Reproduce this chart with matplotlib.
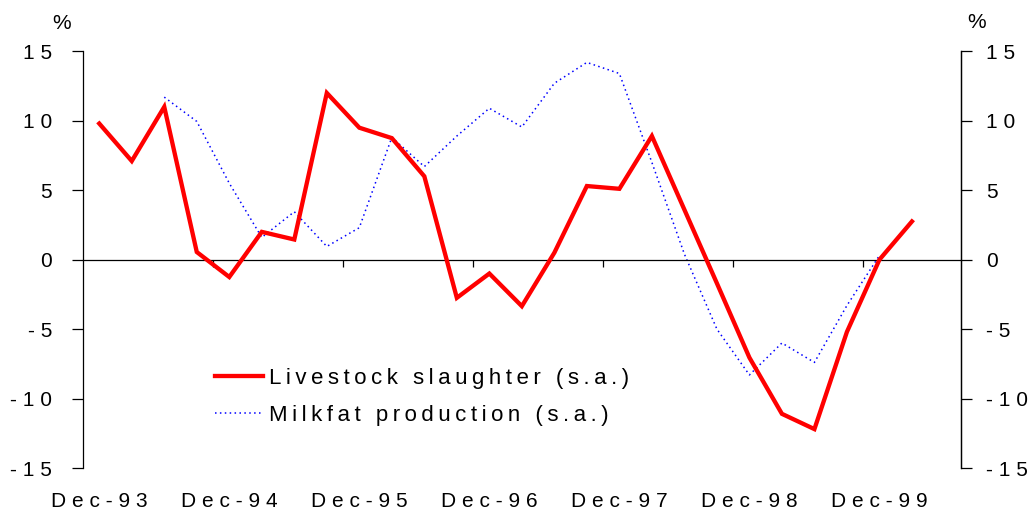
import numpy as np
import matplotlib
matplotlib.use("Agg")
import matplotlib.pyplot as plt

plt.rcParams['font.family'] = ['Liberation Sans', 'DejaVu Sans']

# Quarterly categories, Dec-93 .. Jun-00
quarters = ['Dec-93', 'Mar-94', 'Jun-94', 'Sep-94', 'Dec-94', 'Mar-95', 'Jun-95',
            'Sep-95', 'Dec-95', 'Mar-96', 'Jun-96', 'Sep-96', 'Dec-96', 'Mar-97',
            'Jun-97', 'Sep-97', 'Dec-97', 'Mar-98', 'Jun-98', 'Sep-98', 'Dec-98',
            'Mar-99', 'Jun-99', 'Sep-99', 'Dec-99', 'Mar-00', 'Jun-00']

# Annual growth, % (seasonally adjusted)
livestock = [9.8, 7.1, 11.0, 0.55, -1.25, 2.0, 1.45, 12.0, 9.5, 8.75, 6.0, -2.75,
             -1.0, -3.35, 0.5, 5.3, 5.1, 8.9, 3.6, -1.7, -7.05, -11.1, -12.2,
             -5.2, 0.0, 2.75]
milkfat = [None, None, 11.7, 9.95, 5.5, 1.6, 3.45, 0.95, 2.3, 8.8, 6.7, 8.9, 10.9,
           9.55, 12.7, 14.2, 13.4, 7.0, 0.4, -5.0, -8.3, -6.0, -7.4, -3.3, 0.3]

x_labels = ['Dec-93', 'Dec-94', 'Dec-95', 'Dec-96', 'Dec-97', 'Dec-98', 'Dec-99']
y_ticks = [-15, -10, -5, 0, 5, 10, 15]
series_names = ['Livestock slaughter (s.a.)', 'Milkfat production (s.a.)']


def tracked(s, gap):
    """Letter-spaced version of a label."""
    return gap.join(s)


TICK_GAP = '\u2009\u200a'
LEG_GAP = '\u2009'

W, H = 1031, 511
PX = 72 / 100  # points per pixel at 100 dpi
fig = plt.figure(figsize=(W / 100, H / 100), dpi=100)
left, right, top, bottom = 83, 960.7, 51.3, 468
ax = fig.add_axes([left / W, 1 - bottom / H, (right - left) / W, (bottom - top) / H])

x = np.arange(len(quarters))
ls_vals = np.array(livestock, dtype=float)
mf_vals = np.array([np.nan if v is None else v for v in milkfat], dtype=float)

ax.plot(x[:len(ls_vals)], ls_vals, color='#ff0000', lw=3.1,
        solid_joinstyle='miter', label=tracked(series_names[0], LEG_GAP), zorder=3)
ax.plot(x[:len(mf_vals)], mf_vals, color='#0000ff', lw=1.1, dashes=(1.0, 2.2),
        label=tracked(series_names[1], LEG_GAP), zorder=2)

ax.set_xlim(-0.5, len(quarters) - 0.5)
ax.set_ylim(-15, 15)

# Category axis drawn along zero, ticks between years
ax.spines['top'].set_visible(False)
ax.spines['bottom'].set_position(('data', 0))
for s in ('left', 'right', 'bottom'):
    ax.spines[s].set_linewidth(0.9)
ax.set_xticks(np.arange(3.5, len(quarters) - 1, 4))
ax.tick_params(axis='x', direction='out', length=7 * PX, width=0.9, labelbottom=False)

ytl = [tracked(str(v), TICK_GAP) for v in y_ticks]
ax.set_yticks(y_ticks)
ax.set_yticklabels(ytl)
ax.tick_params(axis='y', direction='out', length=11 * PX, width=0.9, labelsize=15,
               pad=20 * PX)

ax2 = ax.twinx()
ax2.set_ylim(-15, 15)
ax2.set_yticks(y_ticks)
ax2.set_yticklabels(ytl)
ax2.tick_params(axis='y', direction='out', length=11 * PX, width=0.9, labelsize=15,
                pad=14.5 * PX)
for s in ('top', 'bottom', 'left'):
    ax2.spines[s].set_visible(False)
ax2.spines['right'].set_linewidth(0.9)

# Year labels along the bottom edge
sec = ax.secondary_xaxis('bottom')
sec.set_xticks(np.arange(0, len(quarters), 4))
sec.set_xticklabels([tracked(s, TICK_GAP) for s in x_labels])
sec.tick_params(length=0, labelsize=15, pad=17.5)
sec.spines['bottom'].set_visible(False)

fig.text(62 / W, 1 - 29 / H, '%', ha='center', va='baseline', fontsize=15)
fig.text(977 / W, 1 - 28.5 / H, '%', ha='center', va='baseline', fontsize=15)

ax.legend(loc='upper left', bbox_to_anchor=(215 / W, 1 - 368 / H),
          bbox_transform=fig.transFigure, frameon=False, fontsize=16,
          handlelength=2.15, handletextpad=0.3, labelspacing=0.72,
          borderpad=0, borderaxespad=0)

fig.savefig('out.png', dpi=100)
